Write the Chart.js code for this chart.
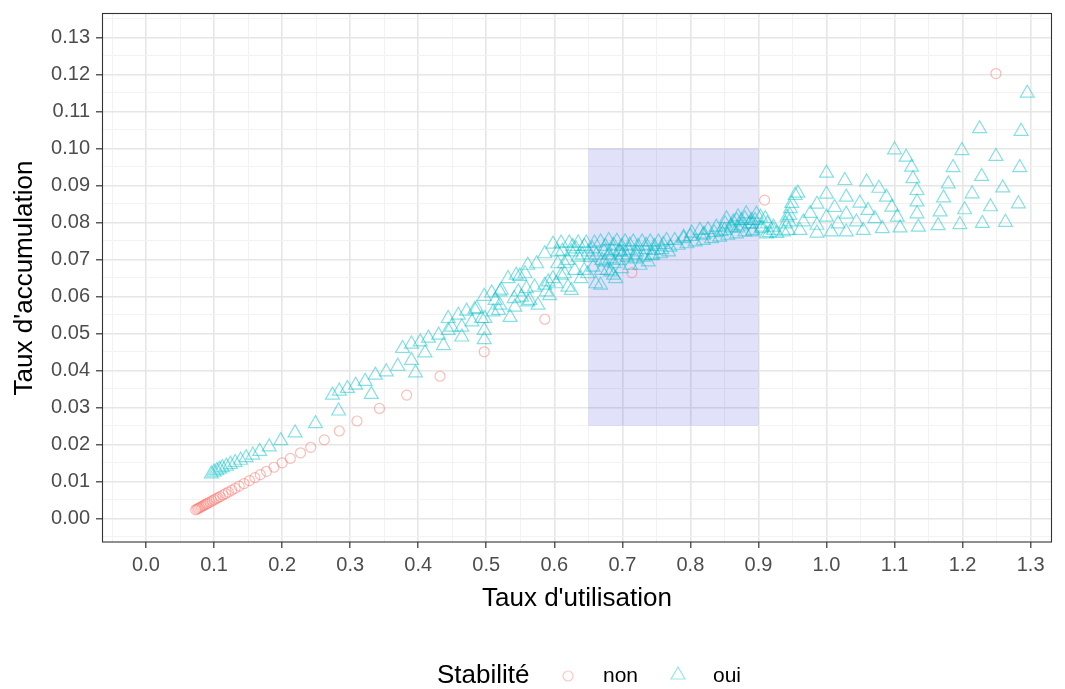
<!DOCTYPE html>
<html><head><meta charset="utf-8">
<script src="https://cdn.jsdelivr.net/npm/chart.js@4.4.1/dist/chart.umd.min.js"></script>
<style>html,body{margin:0;padding:0;background:#fff;overflow:hidden;}</style>
</head><body>
<canvas id="c" width="1065" height="689"></canvas>
<script>
// ---- data ----
const nonX = [0.073,0.075,0.077,0.079,0.081,0.083,0.085,0.087,0.089,0.091,0.094,0.097,0.100,0.103,0.106,0.109,0.113,0.117,0.121,0.126,0.131,0.137,0.144,0.152,0.160,0.168,0.177,0.188,0.200,0.212,0.227,0.242,0.262,0.284,0.310,0.343,0.383,0.432,0.497,0.586,0.714,0.909,1.249];
const nonY = [0.0023,0.0025,0.0027,0.0029,0.0031,0.0033,0.0035,0.0037,0.0039,0.0041,0.0044,0.0047,0.0050,0.0053,0.0056,0.0059,0.0063,0.0067,0.0071,0.0076,0.0081,0.0087,0.0094,0.0102,0.0110,0.0118,0.0127,0.0138,0.0150,0.0162,0.0177,0.0192,0.0212,0.0236,0.0263,0.0297,0.0333,0.0384,0.0450,0.0538,0.0664,0.0860,0.1202];

const ouiX = [
 0.096,0.100,0.104,0.108,0.112,0.118,0.124,0.131,0.139,0.147,0.157,0.167,0.181,0.198,0.219,0.249,0.283,0.331,
 0.274,0.284,0.296,0.308,0.322,0.337,0.353,0.370,0.377,0.390,0.403,0.415,0.430,0.390,0.396,0.410,0.437,
 0.444,0.459,0.471,0.483,0.497,0.508,0.520,0.532,0.544,0.557,0.561,0.574,0.586,0.598,0.610,0.622,0.635,0.647,0.659,
 0.464,0.449,0.479,0.497,0.497,0.498,0.518,0.535,0.513,0.542,0.552,0.564,0.576,0.571,0.588,0.591,0.603,0.610,0.620,0.625,
 0.615,0.630,0.639,0.649,0.661,0.669,0.683,0.688,0.444,0.464,0.493,0.510,0.520,0.561,0.547,0.559,0.541,0.586,0.598,0.615,
 0.605,0.620,0.635,0.644,0.657,0.674,0.695,0.522,0.549,0.486,0.593,0.625,0.650,0.605,
 0.632,0.644,0.656,0.641,0.653,0.662,0.675,0.687,0.699,0.711,0.723,0.735,0.747,0.760,0.720,0.745,0.700,0.680,0.612,0.627,
 0.668,0.680,0.692,0.704,0.716,0.729,0.741,0.753,0.765,0.777,0.790,0.802,0.814,0.826,0.838,0.851,0.863,0.875,0.882,0.897,
 0.673,0.685,0.697,0.709,0.721,0.734,0.746,0.758,0.770,0.782,0.795,0.807,0.819,0.831,0.843,0.855,0.868,0.880,0.892,0.904,0.916,
 0.670,0.682,0.695,0.707,0.719,0.731,0.743,0.756,0.768,0.678,0.690,0.668,0.699,0.712,0.726,0.738,0.687,
 0.853,0.868,0.903,0.913,0.922,0.887,0.910,0.922,0.905,0.912,0.891,0.927,0.937,0.819,0.845,0.870,0.890,0.860,
 0.790,0.800,0.820,0.835,0.850,0.860,0.875,0.890,0.880,0.870,0.895,
 0.940,0.942,0.944,0.945,0.946,0.947,0.949,0.954,0.958,0.961,0.966,0.976,0.986,1.000,1.000,0.986,0.986,1.000,1.012,1.029,1.027,
 1.007,1.017,1.029,1.049,1.059,1.029,1.044,1.061,1.077,1.054,1.071,1.088,1.082,1.096,1.104,1.108,
 1.100,1.117,1.125,1.127,1.133,1.133,1.133,1.135,
 1.164,1.167,1.172,1.179,1.186,1.199,1.196,1.203,1.214,1.228,1.249,1.225,1.229,1.241,1.259,1.286,1.263,1.282,1.284,1.295
];
const ouiY = [
 0.0120,0.0125,0.0129,0.0133,0.0137,0.0141,0.0146,0.0151,0.0157,0.0164,0.0171,0.0181,0.0193,0.0210,0.0231,0.0256,0.0290,0.0335,
 0.0333,0.0344,0.0351,0.0360,0.0370,0.0387,0.0396,0.0411,0.0459,0.0471,0.0477,0.0487,0.0495,0.0427,0.0393,0.0447,0.0467,
 0.0540,0.0549,0.0560,0.0564,0.0600,0.0609,0.0612,0.0648,0.0657,0.0661,0.0684,0.0688,0.0715,0.0741,0.0744,0.0744,0.0744,0.0744,0.0744,
 0.0490,0.0517,0.0531,0.0508,0.0483,0.0540,0.0562,0.0543,0.0589,0.0571,0.0598,0.0589,0.0576,0.0625,0.0612,0.0639,0.0634,0.0657,0.0625,0.0616,
 0.0688,0.0670,0.0648,0.0661,0.0634,0.0670,0.0666,0.0688,0.0508,0.0517,0.0540,0.0558,0.0576,0.0585,0.0612,0.0621,0.0594,0.0630,0.0648,0.0661,
 0.0688,0.0697,0.0706,0.0670,0.0679,0.0693,0.0720,0.0617,0.0654,0.0567,0.0602,0.0720,0.0720,0.0720,
 0.0728,0.0735,0.0728,0.0712,0.0705,0.0712,0.0735,0.0738,0.0735,0.0738,0.0735,0.0738,0.0735,0.0740,0.0712,0.0712,0.0712,0.0712,0.0722,0.0735,
 0.0747,0.0751,0.0749,0.0747,0.0747,0.0747,0.0747,0.0747,0.0751,0.0751,0.0756,0.0771,0.0778,0.0780,0.0787,0.0796,0.0801,0.0805,0.0823,0.0822,
 0.0720,0.0724,0.0720,0.0724,0.0720,0.0726,0.0724,0.0726,0.0733,0.0738,0.0742,0.0747,0.0751,0.0756,0.0760,0.0765,0.0769,0.0774,0.0778,0.0783,0.0772,
 0.0697,0.0701,0.0697,0.0706,0.0701,0.0706,0.0710,0.0715,0.0720,0.0670,0.0648,0.0630,0.0675,0.0684,0.0684,0.0693,0.0657,
 0.0810,0.0805,0.0814,0.0796,0.0787,0.0796,0.0810,0.0778,0.0787,0.0769,0.0774,0.0770,0.0774,0.0765,0.0775,0.0785,0.0805,0.0790,
 0.0760,0.0762,0.0768,0.0772,0.0778,0.0785,0.0790,0.0795,0.0810,0.0815,0.0805,
 0.0796,0.0814,0.0778,0.0801,0.0819,0.0837,0.0851,0.0873,0.0879,0.0778,0.0801,0.0824,0.0849,0.0876,0.0933,0.0771,0.0792,0.0814,0.0840,0.0868,0.0913,
 0.0774,0.0796,0.0822,0.0852,0.0909,0.0774,0.0801,0.0832,0.0892,0.0778,0.0810,0.0868,0.0783,0.0841,0.0814,0.0785,
 0.0996,0.0976,0.0949,0.0918,0.0886,0.0855,0.0823,0.0787,
 0.0791,0.0828,0.0866,0.0904,0.0948,0.0994,0.0794,0.0834,0.0877,0.0924,0.0978,0.1053,0.0797,0.0842,0.0893,0.1046,0.0800,0.0850,0.0948,0.1149
];

const xMajorTicks = [0.0,0.1,0.2,0.3,0.4,0.5,0.6,0.7,0.8,0.9,1.0,1.1,1.2,1.3];
const xMinorTicks = [-0.05,0.05,0.15,0.25,0.35,0.45,0.55,0.65,0.75,0.85,0.95,1.05,1.15,1.25];
const yMajorTicks = [0.00,0.01,0.02,0.03,0.04,0.05,0.06,0.07,0.08,0.09,0.10,0.11,0.12,0.13];
const yMinorTicks = [-0.005,0.005,0.015,0.025,0.035,0.045,0.055,0.065,0.075,0.085,0.095,0.105,0.115,0.125,0.135];
const xLimits = [-0.0647, 1.3314];
const yLimits = [-0.0064, 0.1363];
const rectX = [0.65, 0.90];
const rectY = [0.025, 0.100];
const legendTitle = 'Stabilité';
const seriesNames = ['non', 'oui'];
// ---- end data ----

const FONT = "'Liberation Sans', Arial, Helvetica, sans-serif";
const RED = 'rgba(248,118,109,0.48)';
const TEAL = 'rgba(0,191,196,0.48)';

function toPts(xs, ys){ return xs.map((x,i)=>({x:x, y:ys[i]})); }
function tickList(major, minor){
  const t = major.map(v=>({value:v, minor:false})).concat(minor.map(v=>({value:v, minor:true})));
  t.sort((a,b)=>a.value-b.value);
  return t;
}

const rectPlugin = {
  id:'rectPlugin',
  beforeDatasetsDraw(chart){
    const {ctx, scales:{x,y}} = chart;
    const x0 = x.getPixelForValue(rectX[0]), x1 = x.getPixelForValue(rectX[1]);
    const y0 = y.getPixelForValue(rectY[1]), y1 = y.getPixelForValue(rectY[0]);
    ctx.save();
    ctx.fillStyle = 'rgba(40,40,220,0.14)';
    ctx.fillRect(x0, y0, x1-x0, y1-y0);
    ctx.restore();
  },
  afterDraw(chart){
    const {ctx, chartArea:a} = chart;
    ctx.save();
    ctx.strokeStyle = '#333333';
    ctx.lineWidth = 1.1;
    ctx.strokeRect(a.left+0.5, a.top-0.5, a.right-a.left-1, a.bottom-a.top+0.5);
    // legend
    const cy = 676;
    ctx.fillStyle = '#000';
    ctx.textBaseline = 'middle';
    ctx.textAlign = 'left';
    ctx.font = '26px ' + FONT;
    ctx.fillText(legendTitle, 437, cy);
    ctx.font = '21px ' + FONT;
    ctx.fillText(seriesNames[0], 603, cy);
    ctx.fillText(seriesNames[1], 713, cy);
    ctx.fillStyle = 'rgba(0,0,0,0)';
    ctx.lineWidth = 1.2;
    ctx.strokeStyle = 'rgba(248,118,109,0.4)';
    Chart.helpers.drawPoint(ctx, {pointStyle:'circle', radius:5, borderWidth:1.2, rotation:0}, 568, cy);
    ctx.strokeStyle = 'rgba(0,191,196,0.4)';
    Chart.helpers.drawPoint(ctx, {pointStyle:'triangle', radius:8, borderWidth:1.2, rotation:0}, 678, cy - 1);
    ctx.restore();
  }
};

function gridCfg(){
  return {
    color: c => (c.tick && c.tick.minor) ? '#f2f2f2' : '#e6e6e6',
    lineWidth: c => (c.tick && c.tick.minor) ? 1 : 1.6,
    tickColor: c => (c.tick && c.tick.minor) ? 'rgba(0,0,0,0)' : '#333333',
    tickLength: 6,
    tickWidth: 1.2,
    drawOnChartArea: true
  };
}

new Chart(document.getElementById('c'), {
  type: 'scatter',
  data: {
    datasets: [
      { label: seriesNames[0], data: toPts(nonX, nonY), pointStyle:'circle', pointRadius:5, pointHoverRadius:5,
        borderColor: RED, backgroundColor:'rgba(0,0,0,0)', borderWidth:1.2, pointBorderWidth:1.2 },
      { label: seriesNames[1], data: toPts(ouiX, ouiY), pointStyle:'triangle', pointRadius:8, pointHoverRadius:8,
        borderColor: TEAL, backgroundColor:'rgba(0,0,0,0)', borderWidth:1.2, pointBorderWidth:1.2 }
    ]
  },
  options: {
    responsive: false,
    devicePixelRatio: 1,
    animation: false,
    events: [],
    layout: { padding: { top: 14, right: 13, bottom: 0, left: 0 } },
    plugins: { legend: { display:false }, tooltip: { enabled:false } },
    scales: {
      x: {
        type:'linear', min:xLimits[0], max:xLimits[1], bounds:'data',
        afterBuildTicks: s => { s.ticks = tickList(xMajorTicks, xMinorTicks); },
        afterFit: s => { s.height = 147; s.paddingLeft = 0; s.paddingRight = 0; },
        ticks: { autoSkip:false, maxRotation:0, padding:5, color:'#4d4d4d',
                 font:{ family:FONT, size:20 },
                 callback: function(v, i, t){ return t[i].minor ? '' : Number(v).toFixed(1); } },
        grid: gridCfg(),
        border: { display:false },
        title: { display:true, text:"Taux d'utilisation", color:'#000', font:{ family:FONT, size:26 },
                 padding:{ top:0, bottom:75 } }
      },
      y: {
        type:'linear', min:yLimits[0], max:yLimits[1], bounds:'data',
        afterBuildTicks: s => { s.ticks = tickList(yMajorTicks, yMinorTicks); },
        afterFit: s => { s.width = 102; s.paddingTop = 0; s.paddingBottom = 0; },
        ticks: { autoSkip:false, padding:6, color:'#4d4d4d',
                 font:{ family:FONT, size:20 },
                 callback: function(v, i, t){ return t[i].minor ? '' : Number(v).toFixed(2); } },
        grid: gridCfg(),
        border: { display:false },
        title: { display:true, text:"Taux d'accumulation", color:'#000', font:{ family:FONT, size:26 },
                 padding:{ top:9, bottom:0 } }
      }
    }
  },
  plugins: [rectPlugin]
});
</script>
</body></html>
